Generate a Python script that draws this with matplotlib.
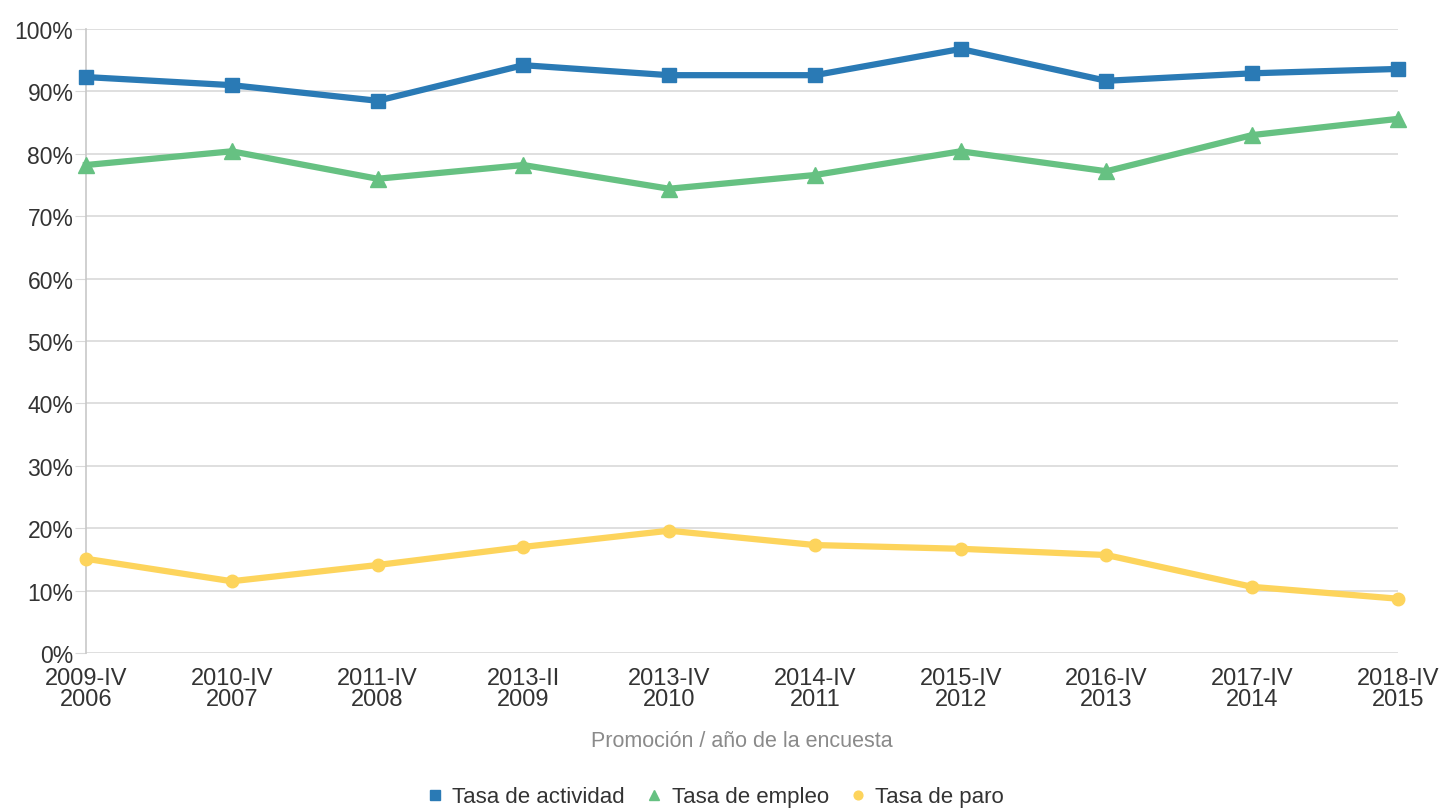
import matplotlib
matplotlib.use("Agg")
import matplotlib.pyplot as plt
from matplotlib.ticker import FuncFormatter

promociones = ["2009-IV", "2010-IV", "2011-IV", "2013-II", "2013-IV",
               "2014-IV", "2015-IV", "2016-IV", "2017-IV", "2018-IV"]
anios = ["2006", "2007", "2008", "2009", "2010",
         "2011", "2012", "2013", "2014", "2015"]

actividad = [92.3, 91.0, 88.5, 94.2, 92.6, 92.6, 96.8, 91.7, 92.9, 93.6]
empleo = [78.2, 80.4, 76.0, 78.2, 74.4, 76.6, 80.4, 77.2, 83.0, 85.6]
paro = [15.1, 11.5, 14.1, 17.0, 19.6, 17.3, 16.7, 15.7, 10.6, 8.7]

plt.rcParams['font.family'] = ['Liberation Sans', 'DejaVu Sans']
txt = '#333333'

fig = plt.figure(figsize=(14.4, 8.12), dpi=100)
ax = fig.add_axes([86/1440, 1-654/812, (1398-86)/1440, (654-30)/812])

x = list(range(len(anios)))
ax.plot(x, actividad, color='#2a7ab5', lw=4.5, marker='s', ms=10,
        label='Tasa de actividad', clip_on=False, zorder=4)
ax.plot(x, empleo, color='#66c182', lw=4.5, marker='^', ms=11,
        label='Tasa de empleo', clip_on=False, zorder=3)
ax.plot(x, paro, color='#fdd45c', lw=4.5, marker='o', ms=9,
        label='Tasa de paro', clip_on=False, zorder=3)

ax.set_xlim(0, len(anios)-1)
ax.set_ylim(0, 100)
ax.set_yticks(range(0, 101, 10))
ax.yaxis.set_major_formatter(FuncFormatter(lambda v, p: f"{int(v)}%"))
ax.set_xticks(x)
ax.set_xticklabels([f"{a}\n{b}" for a, b in zip(promociones, anios)],
                   linespacing=0.92)
ax.grid(axis='y', color='#d9d9d9', lw=1.2)
ax.set_axisbelow(True)
for s in ['top', 'right', 'bottom']:
    ax.spines[s].set_visible(False)
ax.spines['left'].set_color('#c8c8c8')
ax.spines['left'].set_linewidth(1.2)
ax.tick_params(axis='y', length=8, color='#d9d9d9', labelsize=16.5,
               labelcolor=txt, pad=1)
ax.tick_params(axis='x', length=0, labelsize=17, labelcolor=txt, pad=10)

ax.set_xlabel('Promoción / año de la encuesta', fontsize=15.5, color='#8a8a8a',
              labelpad=15)

fig.legend(loc='center', bbox_to_anchor=(715/1440, 1-798/812), ncol=3,
           frameon=False, fontsize=16, labelcolor=txt, handlelength=0.8,
           handletextpad=0.4, columnspacing=0.9, markerscale=0.7)
leg = fig.legends[0]
for h in leg.legend_handles:
    h.set_linestyle('none')

fig.savefig('out.png', dpi=100)
